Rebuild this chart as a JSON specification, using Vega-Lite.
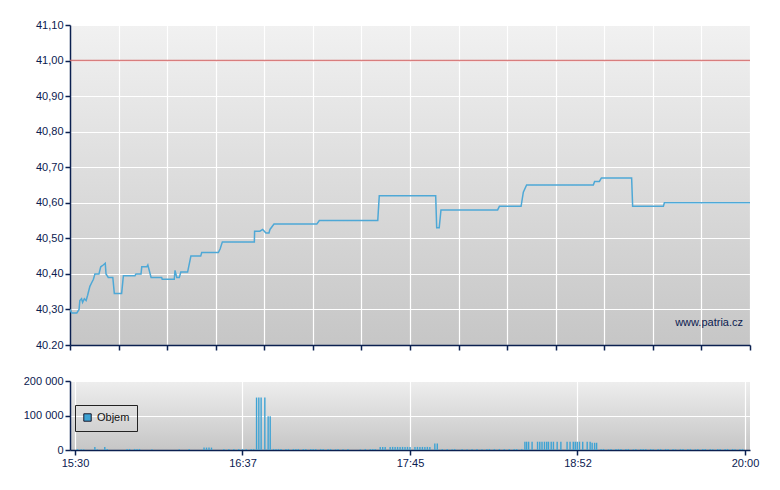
{
  "$schema": "https://vega.github.io/schema/vega-lite/v6.json",
  "background": "white",
  "padding": {"left": 23, "top": 19, "right": 10, "bottom": 5},
  "spacing": 24,
  "config": {
    "view": {"stroke": null},
    "axis": {
      "domainColor": "#0b2050", "domainWidth": 1.5,
      "tickColor": "#0b2050", "tickWidth": 1.5, "tickSize": 5,
      "labelColor": "#0b2050", "labelFont": "Liberation Sans", "labelFontSize": 11,
      "labelOverlap": false, "tickCount": 30,
      "gridColor": "#ffffff", "gridOpacity": 1, "gridWidth": 1.2,
      "title": null
    }
  },
  "resolve": {"scale": {"color": "independent"}, "legend": {"color": "independent"}},
  "vconcat": [
    {
      "width": 680,
      "height": 320,
      "view": {"stroke": null, "fill": {"gradient": "linear", "x1": 0, "y1": 0, "x2": 0, "y2": 1, "stops": [{"offset": 0, "color": "#f1f1f1"}, {"offset": 1, "color": "#c6c6c6"}]}},
      "layer": [
        {
          "data": {
            "format": {"parse": {"t": "utc:'%H:%M:%S'"}},
            "values": [
              {"t": "15:30:00", "price": 40.30}, {"t": "15:30:42", "price": 40.29}, {"t": "15:32:42", "price": 40.29},
              {"t": "15:33:36", "price": 40.30}, {"t": "15:33:54", "price": 40.325}, {"t": "15:34:36", "price": 40.33},
              {"t": "15:35:00", "price": 40.32}, {"t": "15:35:42", "price": 40.33}, {"t": "15:36:24", "price": 40.325},
              {"t": "15:37:00", "price": 40.34}, {"t": "15:37:54", "price": 40.365}, {"t": "15:38:36", "price": 40.375},
              {"t": "15:39:18", "price": 40.385}, {"t": "15:39:54", "price": 40.40}, {"t": "15:41:30", "price": 40.40},
              {"t": "15:42:12", "price": 40.42}, {"t": "15:43:12", "price": 40.425}, {"t": "15:44:00", "price": 40.43},
              {"t": "15:44:18", "price": 40.40}, {"t": "15:45:12", "price": 40.39}, {"t": "15:47:00", "price": 40.39},
              {"t": "15:47:36", "price": 40.345}, {"t": "15:50:30", "price": 40.345}, {"t": "15:51:12", "price": 40.395},
              {"t": "15:55:48", "price": 40.395}, {"t": "15:56:12", "price": 40.40}, {"t": "15:58:12", "price": 40.40},
              {"t": "15:58:30", "price": 40.42}, {"t": "16:00:30", "price": 40.42}, {"t": "16:00:54", "price": 40.425},
              {"t": "16:02:12", "price": 40.39}, {"t": "16:06:24", "price": 40.39}, {"t": "16:06:36", "price": 40.385},
              {"t": "16:11:24", "price": 40.385}, {"t": "16:11:42", "price": 40.41}, {"t": "16:12:24", "price": 40.39},
              {"t": "16:13:24", "price": 40.39}, {"t": "16:14:00", "price": 40.405}, {"t": "16:16:42", "price": 40.405},
              {"t": "16:18:00", "price": 40.45}, {"t": "16:21:54", "price": 40.45}, {"t": "16:22:18", "price": 40.46},
              {"t": "16:28:54", "price": 40.46}, {"t": "16:29:36", "price": 40.47}, {"t": "16:30:30", "price": 40.49},
              {"t": "16:43:12", "price": 40.49}, {"t": "16:43:18", "price": 40.52}, {"t": "16:45:24", "price": 40.52},
              {"t": "16:46:30", "price": 40.525}, {"t": "16:47:48", "price": 40.515}, {"t": "16:49:00", "price": 40.515},
              {"t": "16:49:24", "price": 40.525}, {"t": "16:51:00", "price": 40.54}, {"t": "17:08:00", "price": 40.54},
              {"t": "17:09:00", "price": 40.55}, {"t": "17:32:12", "price": 40.55}, {"t": "17:32:48", "price": 40.62},
              {"t": "17:55:12", "price": 40.62}, {"t": "17:55:36", "price": 40.53}, {"t": "17:56:36", "price": 40.53},
              {"t": "17:57:18", "price": 40.58}, {"t": "18:19:48", "price": 40.58}, {"t": "18:20:30", "price": 40.59},
              {"t": "18:29:06", "price": 40.59}, {"t": "18:30:00", "price": 40.63}, {"t": "18:31:18", "price": 40.65},
              {"t": "18:57:48", "price": 40.65}, {"t": "18:58:18", "price": 40.66}, {"t": "19:00:12", "price": 40.66},
              {"t": "19:01:00", "price": 40.67}, {"t": "19:13:00", "price": 40.67}, {"t": "19:13:24", "price": 40.59},
              {"t": "19:25:36", "price": 40.59}, {"t": "19:26:00", "price": 40.60}, {"t": "20:00:00", "price": 40.60}
            ]
          },
          "mark": {"type": "line", "color": "#4ea8d6", "strokeWidth": 1.5, "clip": true},
          "encoding": {
            "x": {
              "field": "t", "type": "temporal",
              "scale": {"type": "utc", "domain": [-2208933000000, -2208916800000], "nice": false},
              "axis": {
                "values": [-2208933000000, -2208931842857, -2208930685714, -2208929528571, -2208928371429, -2208927214286, -2208926057143, -2208924900000, -2208923742857, -2208922585714, -2208921428571, -2208920271429, -2208919114286, -2208917957143, -2208916800000],
                "tickCount": 30, "labels": false, "grid": true, "ticks": true
              }
            },
            "y": {
              "field": "price", "type": "quantitative",
              "scale": {"domain": [40.2, 41.1], "nice": false, "zero": false},
              "axis": {
                "values": [40.2, 40.3, 40.4, 40.5, 40.6, 40.7, 40.8, 40.9, 41.0, 41.1],
                "tickCount": 30, "grid": true, "labelOverlap": false,
                "labelExpr": "datum.value < 40.25 ? '40.20' : replace(format(datum.value, '.2f'), '.', ',')"
              }
            }
          }
        },
        {
          "data": {"values": [{"limit": 41.0}]},
          "mark": {"type": "rule", "color": "#d46a6a", "strokeWidth": 1.6, "opacity": 0.85},
          "encoding": {"y": {"field": "limit", "type": "quantitative"}}
        },
        {
          "data": {"values": [{"label": "www.patria.cz"}]},
          "mark": {"type": "text", "align": "right", "baseline": "middle", "dx": -7, "font": "Liberation Sans", "fontSize": 11, "color": "#0b2050"},
          "encoding": {
            "x": {"datum": {"year": 1900, "month": 1, "date": 1, "hours": 20, "minutes": 0, "utc": true}, "type": "temporal"},
            "y": {"datum": 40.262, "type": "quantitative"},
            "text": {"field": "label"}
          }
        }
      ]
    },
    {
      "width": 680,
      "height": 69,
      "view": {"stroke": null, "fill": {"gradient": "linear", "x1": 0, "y1": 0, "x2": 0, "y2": 1, "stops": [{"offset": 0, "color": "#eeeeee"}, {"offset": 1, "color": "#c6c6c6"}]}},
      "data": {
        "format": {"parse": {"t": "utc:'%H:%M:%S'"}},
        "values": [
          {"t": "15:31:00", "vol": 3000}, {"t": "15:32:30", "vol": 2000}, {"t": "15:33:30", "vol": 2000},
          {"t": "15:38:00", "vol": 9000}, {"t": "15:39:00", "vol": 2000}, {"t": "15:42:00", "vol": 9000},
          {"t": "15:43:00", "vol": 3000}, {"t": "15:51:00", "vol": 3000}, {"t": "15:52:00", "vol": 3000},
          {"t": "15:54:00", "vol": 3000}, {"t": "15:55:00", "vol": 3000}, {"t": "15:56:00", "vol": 3000},
          {"t": "16:01:00", "vol": 2000}, {"t": "16:12:00", "vol": 2000}, {"t": "16:16:00", "vol": 3000},
          {"t": "16:22:00", "vol": 7000}, {"t": "16:23:00", "vol": 7000}, {"t": "16:24:00", "vol": 7000},
          {"t": "16:25:00", "vol": 7000}, {"t": "16:30:00", "vol": 3000}, {"t": "16:32:00", "vol": 3000},
          {"t": "16:34:00", "vol": 3000}, {"t": "16:36:00", "vol": 3000}, {"t": "16:37:30", "vol": 3000},
          {"t": "16:39:00", "vol": 3000}, {"t": "16:41:00", "vol": 3000}, {"t": "16:42:00", "vol": 3000},
          {"t": "16:43:10", "vol": 152000}, {"t": "16:44:05", "vol": 152000}, {"t": "16:45:00", "vol": 152000},
          {"t": "16:46:30", "vol": 152000}, {"t": "16:47:50", "vol": 98000}, {"t": "16:48:40", "vol": 98000},
          {"t": "16:50:00", "vol": 3000}, {"t": "16:51:00", "vol": 3000}, {"t": "16:52:00", "vol": 3000},
          {"t": "16:53:00", "vol": 3000}, {"t": "16:55:00", "vol": 3000}, {"t": "16:56:00", "vol": 3000},
          {"t": "16:58:00", "vol": 3000}, {"t": "16:59:00", "vol": 3000}, {"t": "17:00:00", "vol": 3000},
          {"t": "17:02:00", "vol": 3000}, {"t": "17:03:00", "vol": 3000}, {"t": "17:05:00", "vol": 3000},
          {"t": "17:06:00", "vol": 3000}, {"t": "17:07:00", "vol": 3000}, {"t": "17:09:00", "vol": 3000},
          {"t": "17:10:00", "vol": 3000}, {"t": "17:12:00", "vol": 3000}, {"t": "17:13:00", "vol": 3000},
          {"t": "17:15:00", "vol": 2000}, {"t": "17:16:00", "vol": 3000}, {"t": "17:18:00", "vol": 2000},
          {"t": "17:20:00", "vol": 3000}, {"t": "17:25:00", "vol": 2000}, {"t": "17:27:00", "vol": 3000},
          {"t": "17:29:00", "vol": 3000}, {"t": "17:30:00", "vol": 3000}, {"t": "17:31:00", "vol": 3000},
          {"t": "17:33:00", "vol": 9000}, {"t": "17:34:00", "vol": 9000}, {"t": "17:35:00", "vol": 9000},
          {"t": "17:37:00", "vol": 9000}, {"t": "17:38:00", "vol": 9000}, {"t": "17:39:00", "vol": 9000},
          {"t": "17:40:00", "vol": 9000}, {"t": "17:41:00", "vol": 9000}, {"t": "17:42:00", "vol": 9000},
          {"t": "17:43:00", "vol": 9000}, {"t": "17:44:00", "vol": 9000}, {"t": "17:45:00", "vol": 9000},
          {"t": "17:47:00", "vol": 9000}, {"t": "17:48:00", "vol": 9000}, {"t": "17:49:00", "vol": 9000},
          {"t": "17:50:00", "vol": 9000}, {"t": "17:51:00", "vol": 9000}, {"t": "17:52:00", "vol": 9000},
          {"t": "17:53:00", "vol": 9000}, {"t": "17:55:00", "vol": 19000}, {"t": "17:56:00", "vol": 19000},
          {"t": "17:58:00", "vol": 3000}, {"t": "18:00:00", "vol": 3000}, {"t": "18:02:00", "vol": 2000},
          {"t": "18:03:00", "vol": 3000}, {"t": "18:06:00", "vol": 3000}, {"t": "18:08:00", "vol": 2000},
          {"t": "18:10:00", "vol": 3000}, {"t": "18:12:00", "vol": 3000}, {"t": "18:14:00", "vol": 2000},
          {"t": "18:16:00", "vol": 3000}, {"t": "18:17:00", "vol": 3000}, {"t": "18:19:00", "vol": 3000},
          {"t": "18:21:00", "vol": 3000}, {"t": "18:23:00", "vol": 3000}, {"t": "18:25:00", "vol": 3000},
          {"t": "18:27:00", "vol": 3000}, {"t": "18:28:00", "vol": 3000}, {"t": "18:30:00", "vol": 3000},
          {"t": "18:31:18", "vol": 24000}, {"t": "18:32:00", "vol": 24000}, {"t": "18:32:48", "vol": 24000},
          {"t": "18:34:12", "vol": 24000}, {"t": "18:36:24", "vol": 24000}, {"t": "18:37:18", "vol": 24000},
          {"t": "18:38:12", "vol": 24000}, {"t": "18:39:12", "vol": 24000}, {"t": "18:40:06", "vol": 24000},
          {"t": "18:40:48", "vol": 24000}, {"t": "18:41:54", "vol": 24000}, {"t": "18:42:48", "vol": 24000},
          {"t": "18:44:18", "vol": 24000}, {"t": "18:45:48", "vol": 24000}, {"t": "18:48:18", "vol": 24000},
          {"t": "18:49:30", "vol": 24000}, {"t": "18:50:48", "vol": 24000}, {"t": "18:51:36", "vol": 24000},
          {"t": "18:52:24", "vol": 24000}, {"t": "18:53:18", "vol": 24000}, {"t": "18:54:36", "vol": 24000},
          {"t": "18:56:24", "vol": 24000}, {"t": "18:57:36", "vol": 24000}, {"t": "18:58:24", "vol": 21000},
          {"t": "18:59:24", "vol": 21000}, {"t": "19:00:12", "vol": 21000},
          {"t": "19:02:00", "vol": 3000}, {"t": "19:03:00", "vol": 3000}, {"t": "19:05:00", "vol": 2000},
          {"t": "19:06:00", "vol": 3000}, {"t": "19:08:00", "vol": 3000}, {"t": "19:09:00", "vol": 3000},
          {"t": "19:10:00", "vol": 3000}, {"t": "19:12:00", "vol": 3000}, {"t": "19:13:00", "vol": 3000},
          {"t": "19:15:00", "vol": 2000}, {"t": "19:16:00", "vol": 3000}, {"t": "19:18:00", "vol": 3000},
          {"t": "19:19:00", "vol": 3000}, {"t": "19:20:00", "vol": 3000}, {"t": "19:22:00", "vol": 3000},
          {"t": "19:23:00", "vol": 2000}, {"t": "19:25:00", "vol": 3000}, {"t": "19:26:00", "vol": 3000},
          {"t": "19:28:00", "vol": 3000}, {"t": "19:29:00", "vol": 3000}, {"t": "19:31:00", "vol": 3000},
          {"t": "19:32:00", "vol": 2000}, {"t": "19:34:00", "vol": 3000}, {"t": "19:35:00", "vol": 3000},
          {"t": "19:37:00", "vol": 3000}, {"t": "19:38:00", "vol": 3000}, {"t": "19:40:00", "vol": 2000},
          {"t": "19:41:00", "vol": 3000}, {"t": "19:43:00", "vol": 3000}, {"t": "19:44:00", "vol": 3000},
          {"t": "19:46:00", "vol": 3000}, {"t": "19:47:00", "vol": 2000}, {"t": "19:49:00", "vol": 3000},
          {"t": "19:50:00", "vol": 3000}, {"t": "19:52:00", "vol": 3000}, {"t": "19:53:00", "vol": 3000},
          {"t": "19:55:00", "vol": 3000}, {"t": "19:56:00", "vol": 2000}, {"t": "19:58:00", "vol": 3000},
          {"t": "19:59:00", "vol": 3000}
        ]
      },
      "mark": {"type": "bar", "size": 1.4},
      "encoding": {
        "x": {
          "field": "t", "type": "temporal",
          "scale": {"type": "utc", "domain": [-2208933000000, -2208916800000], "nice": false},
          "axis": {
            "values": [-2208933000000, -2208928950000, -2208924900000, -2208920850000, -2208916800000],
            "tickCount": 30, "format": "%H:%M", "grid": true, "labelPadding": 2, "labelFlush": false
          }
        },
        "y": {
          "field": "vol", "type": "quantitative",
          "scale": {"domain": [0, 200000], "nice": false},
          "axis": {
            "values": [0, 100000, 200000], "tickCount": 30, "grid": true, "labelOverlap": false,
            "labelExpr": "datum.value == 0 ? '0' : format(datum.value / 1000, 'd') + ' 000'"
          }
        },
        "color": {
          "datum": "Objem", "type": "nominal",
          "scale": {"range": ["#3ea3d4"]},
          "legend": {
            "orient": "none", "legendX": 5, "legendY": 24, "title": null,
            "strokeColor": "#222222", "padding": 7, "labelOffset": 4,
            "symbolType": "square", "symbolSize": 55, "symbolStrokeColor": "#1a1a2e", "symbolStrokeWidth": 1,
            "labelFont": "Liberation Sans", "labelFontSize": 11, "labelColor": "#111111"
          }
        }
      }
    }
  ]
}
